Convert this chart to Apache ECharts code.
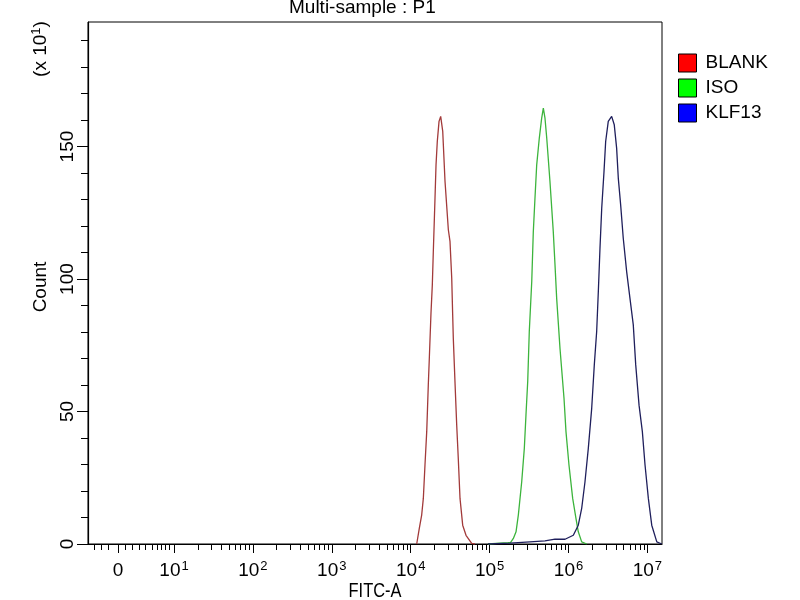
<!DOCTYPE html>
<html><head><meta charset="utf-8">
<script src="https://cdn.jsdelivr.net/npm/echarts@6/dist/echarts.min.js"></script>
<style>html,body{margin:0;padding:0;background:#fff}#c{width:800px;height:600px}</style>
</head><body><div id="c"></div>
<script>
// x values are log10(FITC-A intensity) (display decades), y values are counts in units of 10^1
const blankX = [4.076,4.109,4.139,4.160,4.181,4.203,4.223,4.236,4.257,4.274,4.286,4.308,4.321,4.337,4.359,4.380,4.393,4.406,4.435,4.477,4.498,4.520,4.532,4.540,4.561,4.583,4.603,4.625,4.659,4.701,4.773,4.815];
const blankY = [0,5.9,10.9,17.2,29.8,42.4,60.0,70.1,87.1,97.8,109.7,130.5,143.1,151.9,159.5,161.4,160.7,155.7,136.8,118.6,114.2,100.3,86.5,77.6,61.3,44.9,32.3,17.2,7.1,3.3,0.2,0];
const isoX = [4.980,5.132,5.233,5.267,5.301,5.335,5.364,5.407,5.440,5.461,5.483,5.503,5.534,5.554,5.575,5.597,5.630,5.660,5.681,5.702,5.724,5.765,5.807,5.829,5.850,5.892,5.943,5.968,6.006,6.053,6.095,6.124,6.167,6.231];
const isoY = [0,0.3,0.5,0.6,2.1,4.6,10.9,23.5,36.1,48.7,61.3,80.2,99.0,117.9,130.5,143.1,153.2,160.7,164.5,160.7,153.2,136.8,117.9,105.3,92.7,73.9,55.0,42.4,29.8,17.2,9.6,4.6,0.8,0];
const klfX = [4.980,5.259,5.512,5.702,5.829,5.956,6.061,6.124,6.167,6.209,6.251,6.294,6.327,6.357,6.378,6.399,6.421,6.450,6.471,6.504,6.547,6.580,6.610,6.631,6.661,6.694,6.737,6.779,6.821,6.852,6.894,6.936,6.970,7.012,7.055,7.119,7.182];
const klfY = [0,0.3,0.8,1.2,1.8,1.8,3.3,7.1,13.4,23.5,36.1,51.2,67.6,80.2,95.3,111.6,126.7,140.6,151.9,159.5,161.4,158.2,149.4,138.1,128.0,115.4,102.8,92.7,82.7,67.6,52.4,42.4,29.8,17.2,7.1,0.8,0];

const seriesNames = ['BLANK','ISO','KLF13'];
const legendColors = ['#ff0000','#00ff00','#0000ff'];
const lineColors = ['#a23a3a','#3cb43c','#1f1f5c'];

const xMajorTicks = [0.29,1,2,3,4,5,6,7];
const xTickLabels = ['0','10^1','10^2','10^3','10^4','10^5','10^6','10^7'];
const xBiexMinorTicks = [-0.017,0.076,0.17,0.377,0.47,0.555,0.64,0.724,0.788,0.844,0.895,0.94];
const yMajorTicks = [0,50,100,150];
const yMinorTicks = [10,20,30,40,60,70,80,90,110,120,130,140,160,170,180,190];

const xMinorTicks = xBiexMinorTicks.slice();
for (let k = 1; k <= 6; k++) for (let m = 2; m <= 9; m++) xMinorTicks.push(k + Math.log10(m));

const X_MIN = -0.09, X_MAX = 7.185, Y_MAX = 197;
const FONT = '"Liberation Sans", Arial, sans-serif';

function pairs(xs, ys){ return xs.map((x,i)=>[x, ys[i]]); }
const allX = [blankX, isoX, klfX], allY = [blankY, isoY, klfY];

function xLabel(v){
  let best = 0;
  xMajorTicks.forEach((t,i)=>{ if (Math.abs(t-v) < Math.abs(xMajorTicks[best]-v)) best = i; });
  const s = xTickLabels[best];
  if (s.indexOf('^') < 0) return '{b|' + s + '}';
  const p = s.split('^');
  return '{b|' + p[0] + '}{s|' + p[1] + '}';
}

const gridBox = {left: 88, right: 138, top: 22, bottom: 56, outerBoundsMode: 'none', containLabel: false};
const chart = echarts.init(document.getElementById('c'), null, {renderer: 'canvas'});
chart.setOption({
  animation: false,
  backgroundColor: '#fff',
  grid: [
    Object.assign({show: true, borderColor: '#000', borderWidth: 1, backgroundColor: 'transparent'}, gridBox),
    Object.assign({show: false}, gridBox)
  ],
  xAxis: [{
    type: 'value', gridIndex: 0, position: 'bottom', min: X_MIN, max: X_MAX,
    axisLine: {show: true, onZero: false, lineStyle: {color: '#000', width: 1.2}},
    axisTick: {show: true, length: 9, customValues: xMajorTicks, lineStyle: {color: '#000'}},
    axisLabel: {show: true, customValues: xMajorTicks, margin: 16, formatter: xLabel,
      rich: {
        b: {fontSize: 19, fontFamily: FONT, color: '#000', lineHeight: 22},
        s: {fontSize: 13, fontFamily: FONT, color: '#000', lineHeight: 22, verticalAlign: 'top', padding: [0,0,0,1]}
      }},
    splitLine: {show: false}
  }, {
    type: 'value', gridIndex: 1, position: 'bottom', min: X_MIN, max: X_MAX,
    axisLine: {show: false, onZero: false},
    axisTick: {show: true, length: 6, customValues: xMinorTicks, lineStyle: {color: '#000'}},
    axisLabel: {show: false}, splitLine: {show: false}
  }],
  yAxis: [{
    type: 'value', gridIndex: 0, position: 'left', min: 0, max: Y_MAX,
    axisLine: {show: true, onZero: false, lineStyle: {color: '#000', width: 1.2}},
    axisTick: {show: true, length: 11, customValues: yMajorTicks, lineStyle: {color: '#000'}},
    axisLabel: {show: true, customValues: yMajorTicks, rotate: 90, margin: 11,
      fontSize: 19, fontFamily: FONT, color: '#000'},
    splitLine: {show: false}
  }, {
    type: 'value', gridIndex: 1, position: 'left', min: 0, max: Y_MAX,
    axisLine: {show: false, onZero: false},
    axisTick: {show: true, length: 7, customValues: yMinorTicks, lineStyle: {color: '#000'}},
    axisLabel: {show: false}, splitLine: {show: false}
  }],
  legend: {
    orient: 'vertical', left: 678, top: 53, padding: 0,
    itemWidth: 18, itemHeight: 18, itemGap: 5, icon: 'rect', selectedMode: false,
    textStyle: {fontSize: 19, fontFamily: FONT, color: '#000', lineHeight: 18, padding: [2,0,0,4]},
    data: seriesNames.map((n,i)=>({name: n, itemStyle: {color: legendColors[i], borderColor: '#000', borderWidth: 1}}))
  },
  graphic: [
    {type: 'text', x: 289, y: -2, style: {text: 'Multi-sample : P1', font: '19px ' + FONT, fill: '#000', textVerticalAlign: 'top'}},
    {type: 'text', x: 375, y: 591, scaleX: 0.82, scaleY: 1.05,
      style: {text: 'FITC-A', font: '20px ' + FONT, fill: '#000', textAlign: 'center', textVerticalAlign: 'middle'}},
    {type: 'text', x: 41, y: 287, rotation: Math.PI/2,
      style: {text: 'Count', font: '19px ' + FONT, fill: '#000', textAlign: 'center', textVerticalAlign: 'middle'}},
    {type: 'text', x: 41, y: 49, rotation: Math.PI/2,
      style: {text: '{a|(x 10}{s|1}{a|)}', textAlign: 'center', textVerticalAlign: 'middle',
        rich: {a: {font: '19px ' + FONT, fill: '#000', lineHeight: 22}, s: {font: '13px ' + FONT, fill: '#000', lineHeight: 22, verticalAlign: 'top'}}}}
  ],
  series: seriesNames.map((n,i)=>({
    name: n, type: 'line', xAxisIndex: 0, yAxisIndex: 0,
    data: pairs(allX[i], allY[i]), showSymbol: false, symbol: 'none',
    itemStyle: {color: legendColors[i]},
    lineStyle: {color: lineColors[i], width: 1.3},
    silent: true, clip: true
  }))
});
</script></body></html>
